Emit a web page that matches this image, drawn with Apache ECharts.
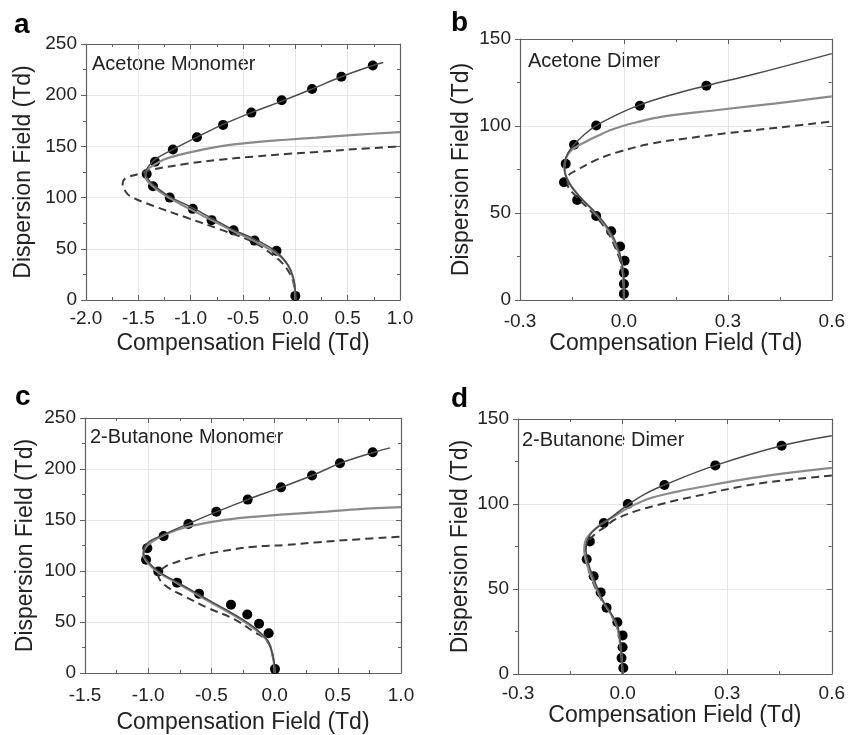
<!DOCTYPE html>
<html>
<head>
<meta charset="utf-8">
<script src="https://cdn.jsdelivr.net/npm/echarts@6/dist/echarts.min.js"></script>
<style>
  html, body { margin: 0; padding: 0; background: #fff; }
  #chart { width: 848px; height: 735px; }
</style>
</head>
<body>
<div id="chart"></div>
<script>
// === DATA (Compensation Field, Dispersion Field) ===
// a: Acetone Monomer
const aPoints = [[0, 4], [-0.18, 48], [-0.39, 58], [-0.59, 68], [-0.80, 78], [-0.98, 89], [-1.20, 100], [-1.36, 111], [-1.42, 123], [-1.34, 135], [-1.17, 147], [-0.94, 159], [-0.69, 171], [-0.42, 183], [-0.13, 195], [0.16, 206], [0.44, 218], [0.74, 229]];
const aFit = [[0, 0], [0, 8], [-0.02, 22], [-0.07, 34], [-0.18, 47], [-0.40, 60], [-0.60, 69], [-0.80, 80], [-0.98, 90], [-1.20, 101], [-1.35, 112], [-1.42, 120], [-1.43, 125], [-1.40, 131], [-1.33, 138], [-1.17, 147], [-0.94, 159], [-0.70, 171], [-0.42, 183], [-0.135, 194], [0.16, 206], [0.44, 218], [0.74, 229], [0.84, 232]];
const aGray = [[0, 0], [-0.01, 15], [-0.05, 30], [-0.15, 43], [-0.40, 58], [-0.60, 67.5], [-0.80, 78], [-1.0, 88.5], [-1.20, 99.5], [-1.36, 111], [-1.43, 120], [-1.43, 125], [-1.38, 130], [-1.26, 137], [-1.04, 143.5], [-0.72, 150], [-0.40, 154], [-0.09, 156.5], [0.20, 158.5], [0.60, 161.5], [1.0, 164]];
const aDash = [[0, 0], [-0.02, 18], [-0.06, 27], [-0.12, 35.5], [-0.21, 43.5], [-0.40, 56.5], [-0.72, 69], [-1.04, 80.5], [-1.36, 92], [-1.58, 101.5], [-1.625, 106.5], [-1.65, 112], [-1.645, 116], [-1.61, 119.5], [-1.50, 123], [-1.36, 127.4], [-1.04, 133], [-0.72, 137], [-0.40, 140], [-0.09, 142.6], [0.20, 144.5], [0.60, 147.5], [1.0, 150]];

// b: Acetone Dimer
const bPoints = [[0, 3.5], [0, 9.2], [0, 15.7], [0.002, 22.6], [-0.011, 30.7], [-0.037, 39.5], [-0.080, 48.3], [-0.135, 57.5], [-0.173, 67.7], [-0.168, 78.3], [-0.144, 89.2], [-0.080, 100.3], [0.046, 111.6], [0.238, 123.2]];
const bFit = [[0, 0], [0, 12], [-0.005, 20], [-0.018, 30.6], [-0.042, 40.2], [-0.080, 49.8], [-0.128, 59.4], [-0.157, 66.9], [-0.171, 74.7], [-0.170, 80], [-0.160, 85], [-0.145, 89], [-0.115, 95], [-0.080, 100.2], [-0.02, 106.5], [0.044, 112], [0.13, 117.5], [0.235, 123], [0.38, 130], [0.60, 141.6]];
const bGray = [[0, 0], [-0.005, 20], [-0.02, 30], [-0.045, 40], [-0.083, 50], [-0.13, 60], [-0.16, 68], [-0.172, 76], [-0.168, 81], [-0.155, 85.5], [-0.138, 88], [-0.11, 91], [-0.08, 93.9], [-0.04, 97.5], [0.006, 100.6], [0.10, 105], [0.27, 109.2], [0.44, 113], [0.60, 117]];
const bDash = [[0, 0], [-0.008, 20], [-0.025, 30], [-0.05, 40], [-0.09, 50], [-0.14, 60], [-0.163, 67], [-0.16, 71.5], [-0.135, 74.7], [-0.08, 80.5], [-0.014, 85.2], [0.082, 90], [0.178, 92.8], [0.273, 95.3], [0.45, 99.2], [0.60, 102.6]];

// c: 2-Butanone Monomer
const cPoints = [[0.003, 3.8], [-0.047, 38.9], [-0.123, 48.2], [-0.216, 57.4], [-0.345, 67], [-0.598, 77.8], [-0.772, 88.6], [-0.92, 99.5], [-1.017, 111], [-1.007, 122.4], [-0.878, 134.2], [-0.682, 146], [-0.461, 158.2], [-0.213, 170], [0.051, 182], [0.296, 193.6], [0.517, 205.7], [0.776, 216.5]];
const cFit = [[0, 0], [-0.01, 15], [-0.05, 31], [-0.09, 37], [-0.18, 46.4], [-0.34, 59], [-0.50, 70], [-0.656, 81], [-0.814, 92], [-0.92, 99.6], [-1.0, 109], [-1.035, 117], [-1.03, 123], [-0.99, 129], [-0.90, 134.5], [-0.70, 145.5], [-0.46, 158], [-0.213, 170], [0.051, 182], [0.296, 193.6], [0.517, 205.5], [0.776, 216], [0.913, 220.7]];
const cGray = [[0, 0], [-0.012, 15], [-0.055, 31], [-0.19, 46], [-0.35, 58.5], [-0.51, 69.5], [-0.665, 80.5], [-0.82, 91.5], [-0.93, 99.5], [-1.01, 109], [-1.04, 117], [-1.02, 123], [-0.973, 128.4], [-0.867, 135.8], [-0.709, 142.7], [-0.445, 149.2], [-0.182, 153], [0.082, 155.5], [0.32, 157.5], [0.65, 160.5], [1.0, 162.6]];
const cDash = [[0, 0], [-0.03, 25], [-0.089, 34.7], [-0.155, 39.6], [-0.313, 52.4], [-0.524, 63.6], [-0.709, 75], [-0.867, 86], [-0.92, 96], [-0.88, 103], [-0.806, 107.5], [-0.63, 114], [-0.445, 118.8], [-0.182, 123.6], [0.082, 125.5], [0.32, 128], [0.65, 131], [1.0, 133.6]];

// d: 2-Butanone Dimer
const dPoints = [[0.002, 3.5], [-0.003, 9.4], [0, 15.7], [0, 22.7], [-0.015, 30.4], [-0.046, 39], [-0.063, 48], [-0.083, 57.5], [-0.103, 67.5], [-0.094, 78], [-0.054, 88.8], [0.015, 100], [0.12, 111.2], [0.266, 122.7], [0.456, 134.3]];
const dFit = [[0, 0], [-0.005, 16], [-0.014, 28], [-0.033, 35.7], [-0.057, 43.4], [-0.081, 55.3], [-0.098, 65], [-0.105, 73], [-0.10, 79], [-0.086, 83.8], [-0.057, 88.6], [-0.024, 93.5], [0.014, 99.4], [0.065, 106], [0.12, 111.2], [0.266, 122.7], [0.456, 134.3], [0.60, 140.2]];
const dGray = [[0, 0], [-0.006, 16], [-0.016, 28], [-0.036, 36], [-0.06, 44], [-0.085, 55], [-0.103, 65], [-0.11, 73], [-0.108, 77], [-0.10, 80.8], [-0.071, 86.7], [-0.03, 92], [0.014, 97.5], [0.081, 103.5], [0.157, 107.3], [0.193, 108.8], [0.383, 115.7], [0.60, 121.2]];
const dDash = [[0, 0], [-0.006, 16], [-0.016, 28], [-0.037, 36], [-0.062, 44], [-0.087, 55], [-0.103, 65], [-0.108, 72], [-0.098, 78], [-0.075, 83], [-0.05, 86.5], [-0.024, 90.6], [0.033, 95.5], [0.10, 99.4], [0.157, 102.3], [0.193, 103.9], [0.383, 111.8], [0.60, 116.7]];

const panelLetters = ['a', 'b', 'c', 'd'];
const panelNames = ['Acetone Monomer', 'Acetone Dimer', '2-Butanone Monomer', '2-Butanone Dimer'];
const xRanges = [[-2, 1, 0.5], [-0.3, 0.6, 0.3], [-1.5, 1, 0.5], [-0.3, 0.6, 0.3]];
const yRanges = [[0, 250, 50], [0, 150, 50], [0, 250, 50], [0, 150, 50]];
const xTitle = 'Compensation Field (Td)';
const yTitle = 'Dispersion Field (Td)';

// === LAYOUT ===
const FONT = '"Liberation Sans", Arial, sans-serif';
const rects = [
    { left: 86, top: 44, width: 314, height: 256 },
    { left: 520, top: 39, width: 314, height: 261 },
    { left: 85, top: 418, width: 316, height: 261 },
    { left: 518, top: 419, width: 315, height: 255 }
];
const xLabelMargin = [9, 12, 13, 10];
const xNameGap = [32, 32, 38, 29];
const yNameGap = [51, 47, 48, 46];
const letterPos = [[14, 25], [451, 23], [15, 397], [451, 399]];
const namePos = [[92, 64], [528, 61], [90, 437], [522, 440]];
const sets = [
    [aPoints, aFit, aGray, aDash],
    [bPoints, bFit, bGray, bDash],
    [cPoints, cFit, cGray, cDash],
    [dPoints, dFit, dGray, dDash]
];

const fmt1 = v => (Math.abs(v) < 1e-9 ? 0 : v).toFixed(1);
const axisColor = '#606060';

const grid = [], xAxis = [], yAxis = [], series = [], graphic = [];

rects.forEach((r, i) => {
    grid.push(r);
    const [x0, x1, xi] = xRanges[i];
    const [y0, y1, yi] = yRanges[i];
    const base = {
        gridIndex: i,
        type: 'value',
        axisLine: { show: true, onZero: false, lineStyle: { color: axisColor, width: 1.2 } },
        axisTick: { show: true, inside: true, length: 5, lineStyle: { color: axisColor } },
        minorTick: { show: true, splitNumber: 2, length: 3, lineStyle: { color: axisColor } },
        axisLabel: { color: '#222', fontSize: 19, fontFamily: FONT },
        nameTextStyle: { color: '#222', fontSize: 23, fontFamily: FONT }
    };
    const mirror = {
        axisLabel: { show: false },
        splitLine: { show: false }
    };
    xAxis.push(Object.assign({}, base, {
        min: x0, max: x1, interval: xi, position: 'bottom',
        name: xTitle, nameLocation: 'middle', nameGap: xNameGap[i],
        axisLabel: Object.assign({}, base.axisLabel, { margin: xLabelMargin[i], formatter: fmt1 }),
        splitLine: { show: true, lineStyle: { color: '#e6e6e6' } }
    }));
    xAxis.push(Object.assign({}, base, mirror, { min: x0, max: x1, interval: xi, position: 'top' }));
    yAxis.push(Object.assign({}, base, {
        min: y0, max: y1, interval: yi, position: 'left',
        name: yTitle, nameLocation: 'middle', nameRotate: 90, nameGap: yNameGap[i],
        axisTick: { show: true, inside: false, length: 5, lineStyle: { color: axisColor } },
        axisLabel: Object.assign({}, base.axisLabel, { margin: 9 }),
        splitLine: { show: true, lineStyle: { color: '#e6e6e6' } }
    }));
    yAxis.push(Object.assign({}, base, mirror, { min: y0, max: y1, interval: yi, position: 'right' }));

    const [pts, fit, gray, dash] = sets[i];
    const ax = { xAxisIndex: 2 * i, yAxisIndex: 2 * i };
    series.push(Object.assign({
        type: 'line', data: dash, symbol: 'none', smooth: 0.4,
        lineStyle: { color: '#3a3a3a', width: 2, type: [8, 5] }
    }, ax));
    series.push(Object.assign({
        type: 'line', data: gray, symbol: 'none', smooth: 0.4,
        lineStyle: { color: '#8a8a8a', width: 2.2 }
    }, ax));
    series.push(Object.assign({
        type: 'line', data: fit, symbol: 'none', smooth: 0.4,
        lineStyle: { color: '#4a4a4a', width: 1.5 }
    }, ax));
    series.push(Object.assign({
        type: 'scatter', data: pts, symbolSize: 10,
        itemStyle: { color: '#000', opacity: 1 }
    }, ax));

    graphic.push({
        type: 'text', left: letterPos[i][0], top: letterPos[i][1] - 14,
        style: { text: panelLetters[i], fontSize: 28, fontWeight: 'bold', fontFamily: FONT, fill: '#000' }
    });
    graphic.push({
        type: 'text', left: namePos[i][0], top: namePos[i][1] - 10,
        style: { text: panelNames[i], fontSize: 20, fontFamily: FONT, fill: '#222' }
    });
});

const chart = echarts.init(document.getElementById('chart'));
chart.setOption({
    animation: false,
    backgroundColor: '#fff',
    grid, xAxis, yAxis, series, graphic
});
window.addEventListener('resize', () => chart.resize());
</script>
</body>
</html>
